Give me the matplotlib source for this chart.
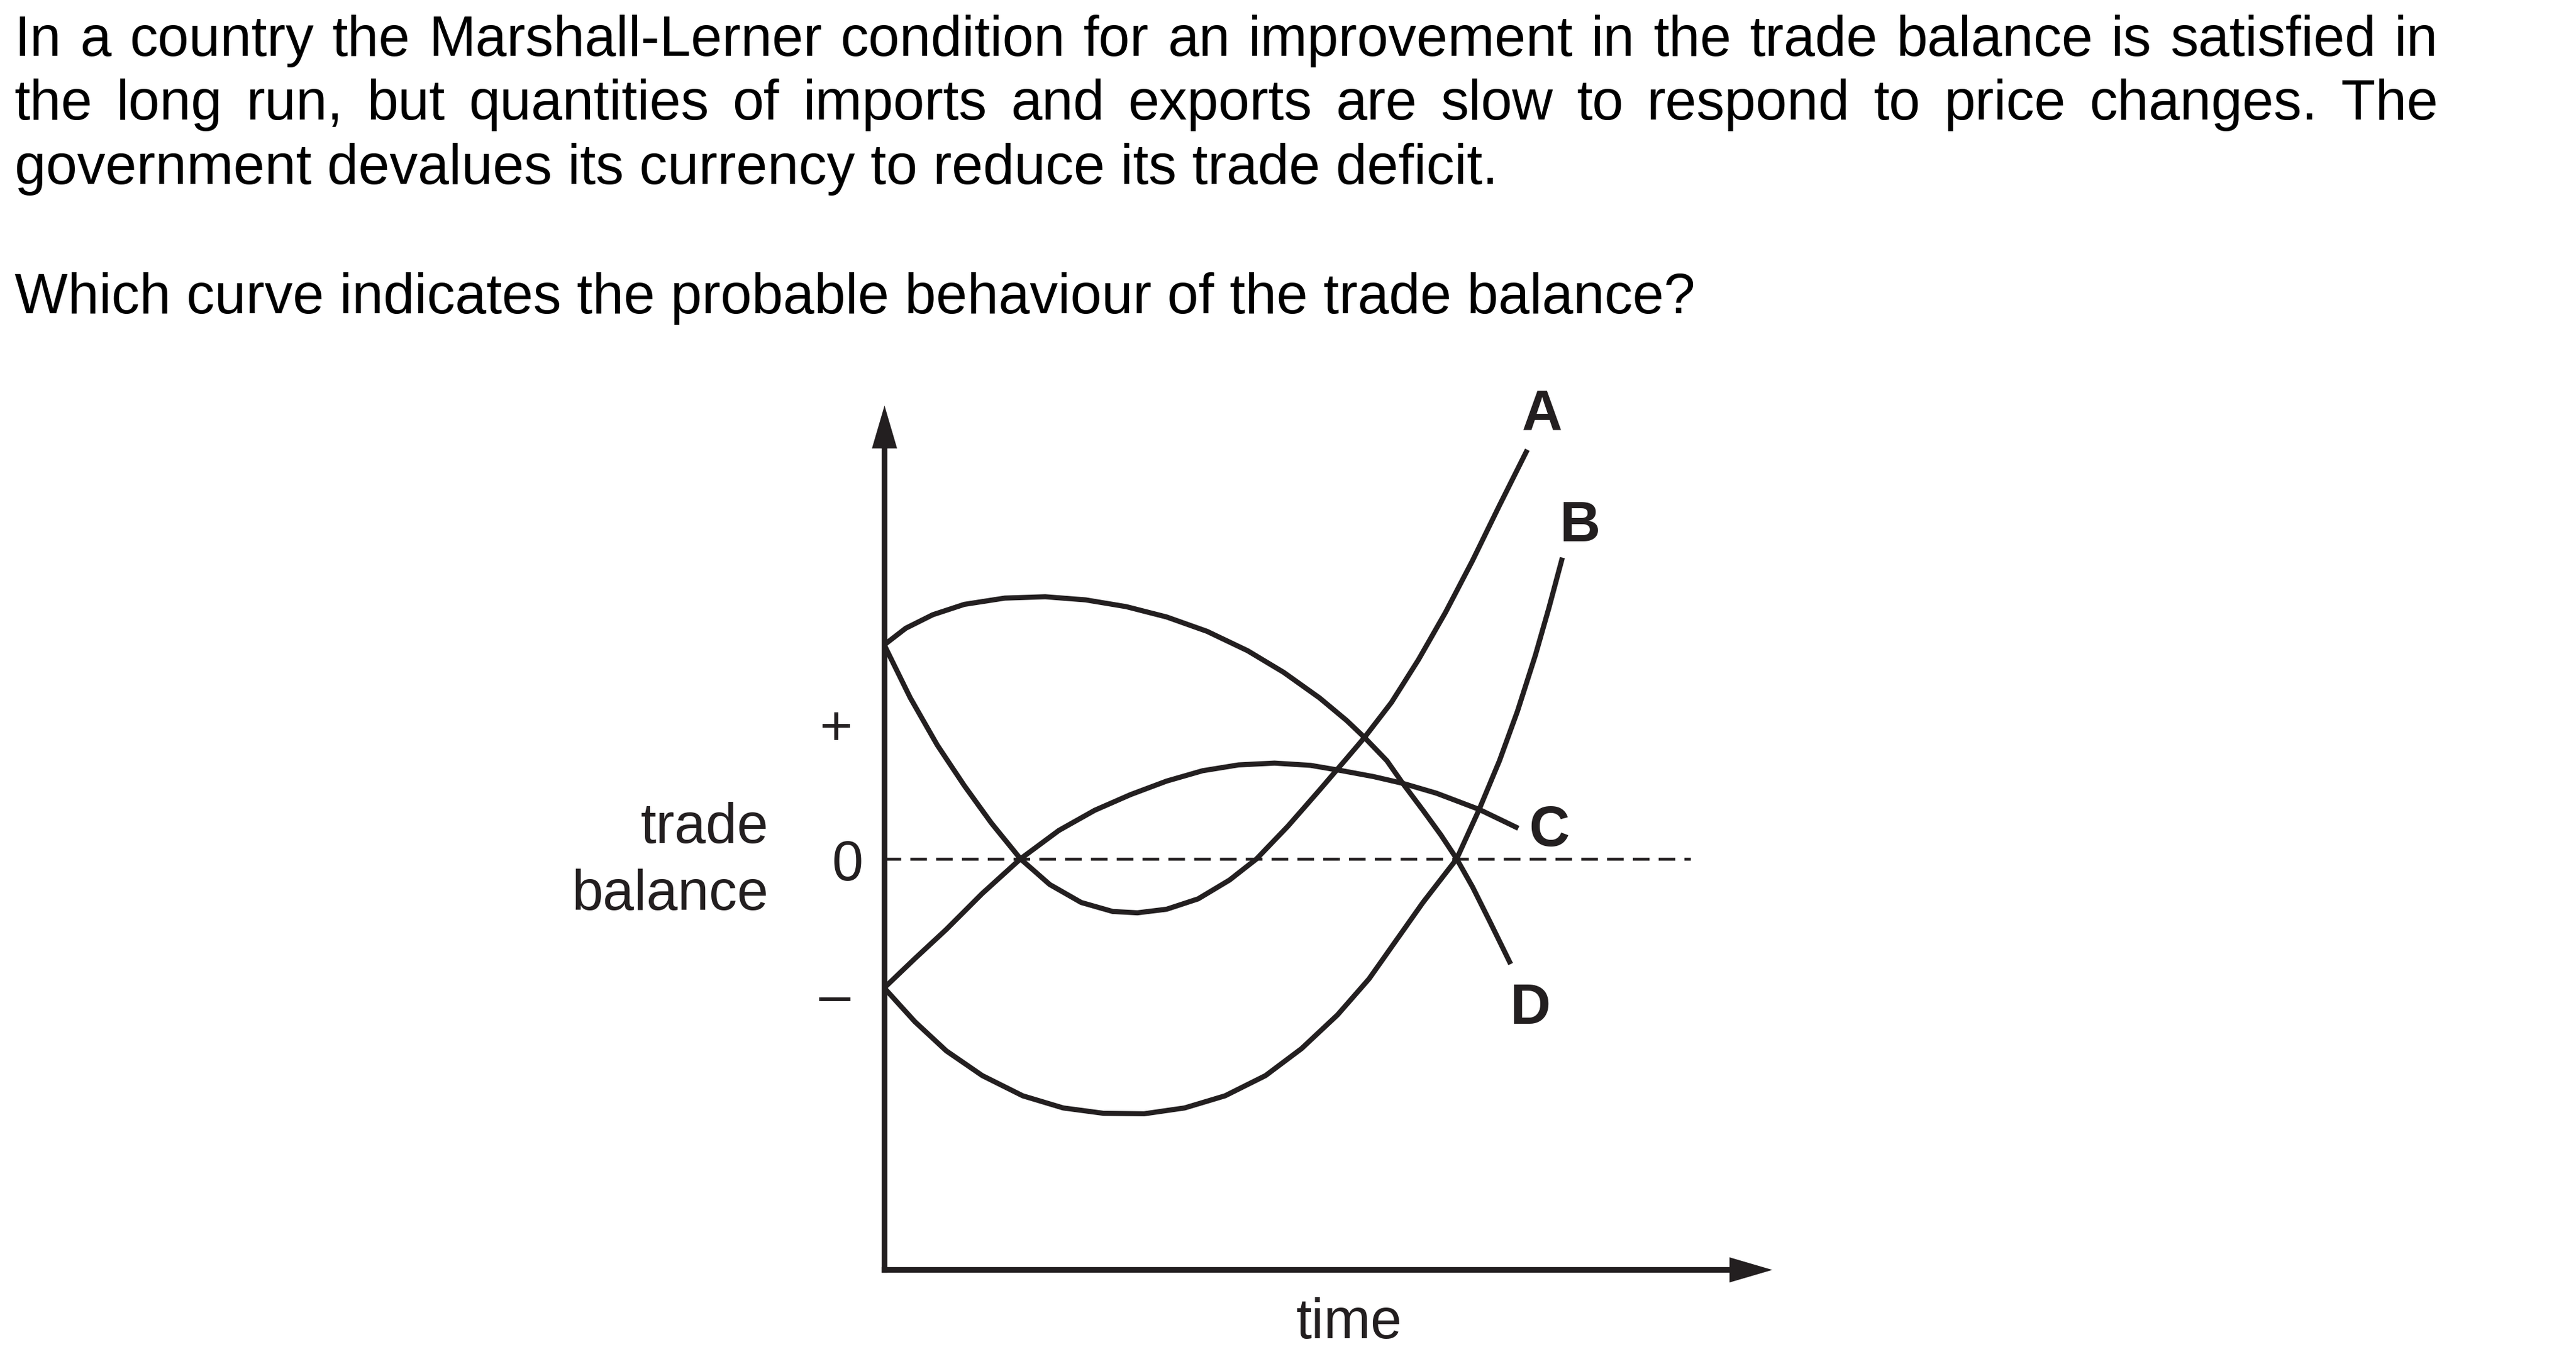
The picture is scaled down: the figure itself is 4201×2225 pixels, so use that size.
import matplotlib
matplotlib.use("Agg")
import matplotlib.pyplot as plt

plt.rcParams['font.family'] = ['Liberation Sans', 'DejaVu Sans']
plt.rcParams['lines.scale_dashes'] = False

# ---------------- data (time units, trade balance units) ----------------
a_x = [0, 0.4254, 0.8654, 1.3055, 1.7455, 2.2222, 2.6989, 3.2123, 3.7257, 4.1290,
       4.6058, 5.1191, 5.6325, 6.0726, 6.5859, 7.0993, 7.5394, 7.8327, 8.2728,
       8.7128, 9.1528, 9.5929, 10.0329, 10.4876]
a_y = [3.4910, 2.6256, 1.8555, 1.1954, 0.5867, 0, -0.4180, -0.7114, -0.8581, -0.8801,
       -0.8214, -0.6527, -0.3447, 0, 0.5354, 1.1221, 1.6355, 1.9802, 2.5522,
       3.2490, 4.0190, 4.8624, 5.7645, 6.6739]

b_x = [0, 0.4987, 1.0121, 1.5988, 2.2589, 2.9189, 3.5790, 4.2391, 4.8991, 5.5592,
       6.2192, 6.8060, 7.3927, 7.9061, 8.3461, 8.7861, 9.3362, 9.7029, 10.0329,
       10.3263, 10.6196, 10.8397, 11.0597]
b_y = [-2.1049, -2.6549, -3.1316, -3.5350, -3.8650, -4.0630, -4.1510, -4.1584,
       -4.0630, -3.8650, -3.5350, -3.0949, -2.5449, -1.9581, -1.3348, -0.7114, 0,
       0.8067, 1.5988, 2.4056, 3.3223, 4.0924, 4.9138]

c_x = [0, 0.4987, 1.0121, 1.5988, 2.2222, 2.8456, 3.4323, 4.0190, 4.6058, 5.1925,
       5.7792, 6.3659, 6.9526, 7.4660, 7.9794, 8.4561, 9.0062, 9.7029, 10.3409]
c_y = [-2.1049, -1.6281, -1.1514, -0.5647, 0, 0.4620, 0.7921, 1.0488, 1.2688,
       1.4375, 1.5328, 1.5621, 1.5255, 1.4375, 1.3421, 1.2321, 1.0708, 0.8067, 0.4987]

d_x = [0, 0.3520, 0.7921, 1.3055, 1.9655, 2.6256, 3.2856, 3.9457, 4.6058, 5.2658,
       5.9259, 6.5126, 7.0993, 7.5394, 7.8327, 8.1994, 8.4561, 8.7861, 9.0795,
       9.3362, 9.5929, 9.8862, 10.2163]
d_y = [3.4910, 3.7623, 3.9824, 4.1510, 4.2537, 4.2757, 4.2244, 4.1144, 3.9457,
       3.7110, 3.3956, 3.0436, 2.6256, 2.2589, 1.9802, 1.5988, 1.2321, 0.7921,
       0.3887, 0, -0.4547, -1.0414, -1.7162]

curve_labels = ["A", "B", "C", "D"]
label_x = [10.73, 11.35, 10.84, 10.54]
label_y = [6.99, 5.18, 0.21, -2.69]

zero_x = [0, 13.15]
zero_y = [0, 0]

question_lines = [
    "In a country the Marshall-Lerner condition for an improvement in the trade balance is satisfied in",
    "the long run, but quantities of imports and exports are slow to respond to price changes. The",
    "government devalues its currency to reduce its trade deficit.",
    "Which curve indicates the probable behaviour of the trade balance?",
]
question_baselines = [91, 195, 300, 511]
question_justified = [True, True, False, False]

# ---------------- figure ----------------
W, H = 4201, 2225
fig = plt.figure(figsize=(W / 100, H / 100), dpi=100)
ink = '#231f20'

x_min, x_max = 0, 14.48
y_min, y_max = -6.70, 7.40
ax = fig.add_axes([1442 / W, (H - 2071) / H, 1448 / W, 1410 / H])
ax.set_xlim(x_min, x_max)
ax.set_ylim(y_min, y_max)
ax.set_xticks([])
ax.set_yticks([])
ax.patch.set_visible(False)
for s in ['top', 'right']:
    ax.spines[s].set_visible(False)
for s in ['left', 'bottom']:
    ax.spines[s].set_linewidth(6.7)
    ax.spines[s].set_color(ink)
    ax.spines[s].set_capstyle('projecting')
ax.spines['left'].set_bounds(y_min, y_max - 0.4)
ax.spines['bottom'].set_bounds(x_min, x_max - 0.4)

# arrow heads (tip at the marker position)
up_head = [(-0.293, -1.0), (0.293, -1.0), (0.0, 0.0), (-0.293, -1.0)]
right_head = [(-1.0, -0.293), (-1.0, 0.293), (0.0, 0.0), (-1.0, -0.293)]
ax.plot([0], [y_max], marker=up_head, markersize=100.8, color=ink,
        markeredgewidth=0, clip_on=False)
ax.plot([x_max], [y_min], marker=right_head, markersize=100.8, color=ink,
        markeredgewidth=0, clip_on=False)

# zero line
ax.plot(zero_x, zero_y, color=ink, lw=3.4, linestyle=(0, (19.5, 10.8)),
        dash_capstyle='butt', clip_on=False)

# curves
for xs, ys in [(a_x, a_y), (b_x, b_y), (c_x, c_y), (d_x, d_y)]:
    ax.plot(xs, ys, color=ink, lw=6.0, solid_capstyle='butt',
            solid_joinstyle='round', clip_on=False)

for lab, lx, ly in zip(curve_labels, label_x, label_y):
    ax.text(lx, ly, lab, ha='center', va='baseline', fontsize=66,
            fontweight='bold', color=ink)

# axis annotations
ax.text(-0.79, 1.86, "+", ha='center', va='baseline', fontsize=66, color=ink)
ax.text(-0.60, -0.35, "0", ha='center', va='baseline', fontsize=66, color=ink)
ax.text(-0.80, -2.52, "\u2013", ha='center', va='baseline', fontsize=66, color=ink)
ax.text(-1.89, 0.26, "trade", ha='right', va='baseline', fontsize=66, color=ink)
ax.text(-1.89, -0.83, "balance", ha='right', va='baseline', fontsize=66, color=ink)
ax.text(7.58, -7.82, "time", ha='center', va='baseline', fontsize=66, color=ink)

# question text
renderer = fig.canvas.get_renderer()
left_px, right_px = 24, 3976
for line, base, just in zip(question_lines, question_baselines, question_justified):
    yf = 1 - base / H
    if not just:
        fig.text(left_px / W, yf, line, ha='left', va='baseline', fontsize=66,
                 color='black')
        continue
    words = line.split(" ")
    texts = [fig.text(0, yf, w, ha='left', va='baseline', fontsize=66,
                      color='black') for w in words]
    widths = [t.get_window_extent(renderer).width for t in texts]
    gap = (right_px - left_px - sum(widths)) / (len(words) - 1)
    x = left_px
    for t, w in zip(texts, widths):
        t.set_x(x / W)
        x += w + gap

fig.savefig("out.png", dpi=100, facecolor='white')
